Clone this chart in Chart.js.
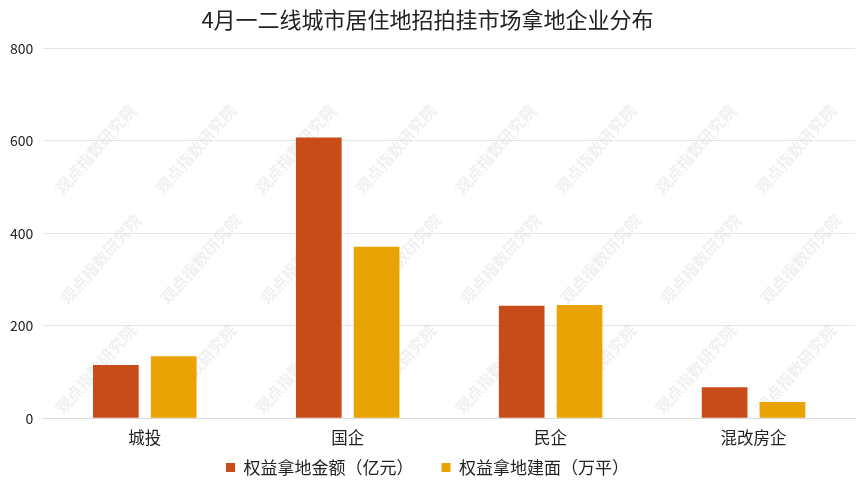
<!DOCTYPE html>
<html>
<head>
<meta charset="utf-8">
<script src="https://cdn.jsdelivr.net/npm/chart.js@4.4.1/dist/chart.umd.min.js"></script>
<style>
  html, body { margin: 0; padding: 0; background: #fff; }
  #wrap { width: 865px; height: 487px; }
</style>
</head>
<body>
<div id="wrap"><canvas id="c"></canvas></div>
<script>
const categories = ['城投', '国企', '民企', '混改房企'];
const amountValues = [115, 607, 243, 67];   // 权益拿地金额（亿元）
const areaValues = [134, 371, 245, 35];     // 权益拿地建面（万平）
const yTicks = [0, 200, 400, 600, 800];

const fontFamily = '"Noto Sans CJK SC", "Noto Sans", sans-serif';

// faint diagonal watermark, like the source image
const watermark = {
  id: 'watermark',
  beforeDatasetsDraw(chart) {
    const ctx = chart.ctx;
    ctx.save();
    ctx.font = 'bold 16px ' + fontFamily;
    ctx.fillStyle = 'rgba(205,205,205,0.3)';
    const rows = [150, 260, 370];
    rows.forEach((y, r) => {
      for (let i = 0; i < 8; i++) {
        const x = 95 + i * 100 + (r % 2) * 5;
        ctx.save();
        ctx.translate(x, y);
        ctx.rotate(-Math.PI * 0.27);
        ctx.fillText('观点指数研究院', -55, 0);
        ctx.restore();
      }
    });
    ctx.restore();
  }
};

// wide gap between legend items, but keep the legend box short
const legendSpacing = {
  id: 'legendSpacing',
  beforeInit(chart) {
    const lg = chart.legend;
    if (!lg) return;
    const origFit = lg.fit;
    lg.fit = function () {
      origFit.call(this);
      this.height = 37;
    };
  },
  afterLayout(chart) {
    const lg = chart.legend;
    if (!lg) return;
    lg.top = 431;
    lg.bottom = chart.height;
    lg.height = lg.bottom - lg.top;
  }
};

new Chart(document.getElementById('c'), {
  type: 'bar',
  data: {
    labels: categories,
    datasets: [
      {
        label: '权益拿地金额（亿元）',
        data: amountValues,
        backgroundColor: '#C84C19',
        categoryPercentage: 0.57,
        barPercentage: 0.79,
      },
      {
        label: '权益拿地建面（万平）',
        data: areaValues,
        backgroundColor: '#E9A305',
        categoryPercentage: 0.57,
        barPercentage: 0.79,
      },
    ],
  },
  options: {
    responsive: true,
    maintainAspectRatio: false,
    animation: false,
    layout: { padding: { left: 0, right: 10, top: 0, bottom: 0 } },
    plugins: {
      title: {
        display: true,
        text: '4月一二线城市居住地招拍挂市场拿地企业分布',
        color: '#222',
        font: { family: fontFamily, size: 22, weight: 'normal' },
        padding: { top: 6, bottom: 16 },
      },
      legend: {
        position: 'bottom',
        labels: {
          boxWidth: 9,
          boxHeight: 9,
          color: '#222',
          padding: 28,
          font: { family: fontFamily, size: 17 },
        },
      },
      tooltip: { enabled: false },
    },
    scales: {
      x: {
        grid: { display: false },
        border: { color: '#d9d9d9' },
        ticks: { color: '#222', font: { family: fontFamily, size: 16.5 }, padding: 2 },
      },
      y: {
        min: 0,
        max: 800,
        afterBuildTicks: axis => { axis.ticks = yTicks.map(v => ({ value: v })); },
        grid: { color: '#e6e6e6', drawTicks: false },
        border: { display: false },
        ticks: { color: '#222', font: { family: fontFamily, size: 14 }, padding: 10 },
      },
    },
  },
  plugins: [watermark, legendSpacing],
});
</script>
</body>
</html>
